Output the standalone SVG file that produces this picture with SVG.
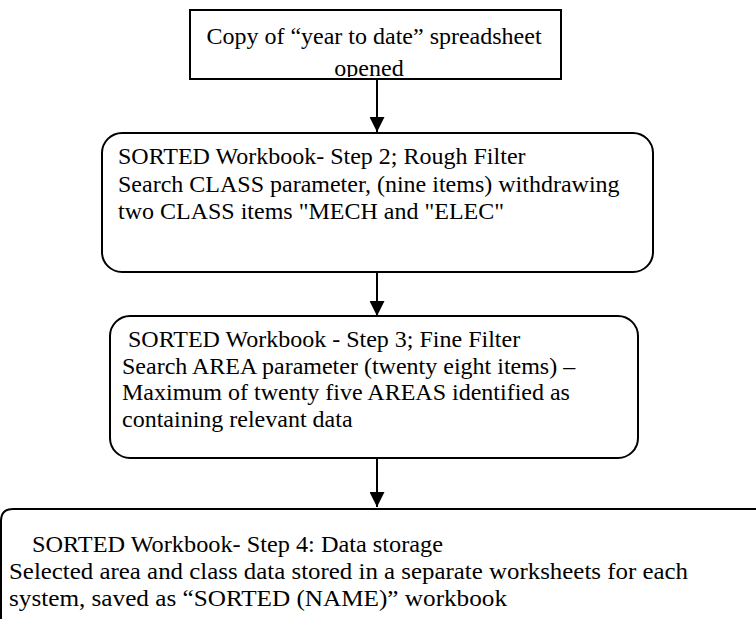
<svg xmlns="http://www.w3.org/2000/svg" width="756" height="619" viewBox="0 0 756 619">
<style>
.box{fill:#fff;stroke:#000;stroke-width:2}
.t{font-family:"Liberation Serif","Times New Roman",serif;fill:#000;font-size:24px}
.c{stroke:#000;stroke-width:2;fill:none}
</style>
<defs>
<marker id="ah" markerWidth="15" markerHeight="15" refX="15" refY="7.5" orient="auto" markerUnits="userSpaceOnUse" viewBox="0 0 15 15">
<path d="M0,0 L15,7.5 L0,15 z" fill="#000"/>
</marker>
<clipPath id="clip1"><rect x="190" y="11" width="370" height="66"/></clipPath>
</defs>
<rect width="756" height="619" fill="#fff"/>
<g id="node1">
<rect class="box" x="190" y="10" width="371" height="69"/>
<g clip-path="url(#clip1)">
<text class="t" x="374" y="44" text-anchor="middle">Copy of “year to date” spreadsheet</text>
<text class="t" x="369" y="76" text-anchor="middle">opened</text>
</g>
</g>
<g id="node2">
<rect class="box" x="102" y="133" width="551" height="139" rx="20"/>
<text class="t" x="118" y="164">SORTED Workbook- Step 2; Rough Filter</text>
<text class="t" x="118" y="192">Search CLASS parameter, (nine items) withdrawing</text>
<text class="t" x="118" y="219">two CLASS items "MECH and "ELEC"</text>
</g>
<g id="node3">
<rect class="box" x="110" y="316" width="528" height="142" rx="20"/>
<text class="t" x="128" y="347">SORTED Workbook - Step 3; Fine Filter</text>
<text class="t" x="122" y="374">Search AREA parameter (twenty eight items) –</text>
<text class="t" x="122" y="400">Maximum of twenty five AREAS identified as</text>
<text class="t" x="122" y="427">containing relevant data</text>
</g>
<g id="node4">
<path class="box" d="M1,625 L1,521 Q1,509 13,509 L760,509"/>
<text class="t" x="32" y="552" textLength="411" lengthAdjust="spacingAndGlyphs">SORTED Workbook- Step 4: Data storage</text>
<text class="t" x="9" y="579" textLength="679" lengthAdjust="spacingAndGlyphs">Selected area and class data stored in a separate worksheets for each</text>
<text class="t" x="9" y="606" textLength="498" lengthAdjust="spacingAndGlyphs">system, saved as “SORTED (NAME)” workbook</text>
</g>
<g id="connectors">
<line class="c" x1="377" y1="79" x2="377" y2="132" marker-end="url(#ah)"/>
<line class="c" x1="377" y1="272" x2="377" y2="316" marker-end="url(#ah)"/>
<line class="c" x1="377" y1="458" x2="377" y2="507" marker-end="url(#ah)"/>
</g>
</svg>
